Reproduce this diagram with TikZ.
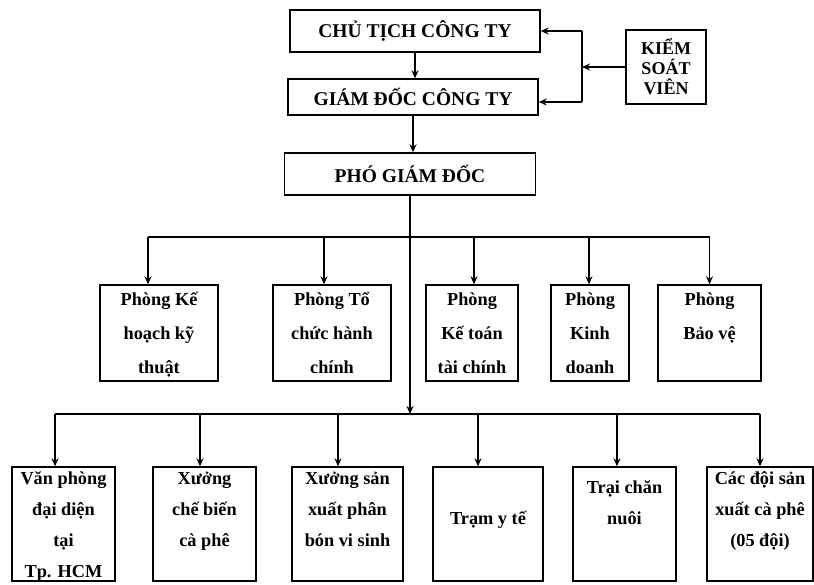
\documentclass[tikz,border=0pt]{standalone}
\usepackage{fontspec}
\setmainfont{Liberation Serif}
\usetikzlibrary{arrows.meta}

% text of a box, hung from its top edge
\newcommand{\unittext}[4][3pt]{\parbox[c][#2][t]{#3}{\centering\vspace*{#1}\rule{0pt}{14pt}#4}}

\begin{document}
\begin{tikzpicture}[x=1pt, y=-1pt, >=Stealth]
  \tikzset{
    unit/.style={draw, line width=1.4pt, inner sep=0pt},
    head/.style={unit, font=\bfseries\fontsize{19.5}{22}\selectfont},
    dept/.style={unit, font=\bfseries\fontsize{18.3}{34}\selectfont},
    site/.style={unit, font=\bfseries\fontsize{18.3}{31}\selectfont},
    link/.style={line width=1.3pt, -{Stealth[length=8pt, width=7pt]}},
    bus/.style={line width=1.3pt},
  }
  \useasboundingbox (0,0) rectangle (814,585);

  % --- Management ---
  \node[head, minimum width=250pt, minimum height=42pt] (ct) at (415,31) {CHỦ TỊCH CÔNG TY};
  \node[head, minimum width=250pt, minimum height=36pt] (gd) at (413,97) {GIÁM ĐỐC CÔNG TY};
  \node[head, minimum width=251pt, minimum height=42pt] (pgd) at (410,174) {PHÓ GIÁM ĐỐC};
  \node[unit, minimum width=80pt, minimum height=74pt, align=center,
        font=\bfseries\fontsize{18}{20}\selectfont] (ksv) at (666,67) {KIỂM\\SOÁT\\VIÊN};

  \draw[link] (ct.south) -- (ct.south |- gd.north);
  \draw[link] (gd.south) -- (gd.south |- pgd.north);

  % Supervisor
  \coordinate (ksvtop) at (582,31);
  \coordinate (ksvbot) at (582,102);
  \draw[bus] (ksvtop) -- (ksvbot);
  \draw[link] (ksv.west) -- (ksv.west -| ksvtop);
  \draw[link] (ksvtop) -- (ksvtop -| ct.east);
  \draw[link] (ksvbot) -- (ksvbot -| gd.east);

  % --- Departments ---
  \node[dept] (pkh) at (159,333) {\unittext[7pt]{96pt}{118pt}{Phòng Kế\\hoạch kỹ\\thuật}};
  \node[dept] (ptc) at (332,333) {\unittext[7pt]{96pt}{118pt}{Phòng Tổ\\chức hành\\chính}};
  \node[dept] (pkt) at (472,333) {\unittext[7pt]{96pt}{92pt}{Phòng\\Kế toán\\tài chính}};
  \node[dept] (pkd) at (590,333) {\unittext[7pt]{96pt}{78pt}{Phòng\\Kinh\\doanh}};
  \node[dept] (pbv) at (709.5,333) {\unittext[7pt]{96pt}{103pt}{Phòng\\Bảo vệ}};

  % --- Production units ---
  \node[site] (vp) at (63.5,524) {\unittext{114pt}{103pt}{Văn phòng\\đại diện\\tại\\Tp. HCM}};
  \node[site] (xcb) at (204.5,524) {\unittext{114pt}{103pt}{Xưởng\\chế biến\\cà phê}};
  \node[site] (xsx) at (347.5,524) {\unittext{114pt}{111pt}{Xưởng sản\\xuất phân\\bón vi sinh}};
  \node[site] (tyt) at (488,524) {\unittext[43pt]{114pt}{110pt}{Trạm y tế}};
  \node[site] (tcn) at (624.5,524) {\unittext[12pt]{114pt}{103pt}{Trại chăn\\nuôi}};
  \node[site] (cds) at (760,524) {\unittext{114pt}{106pt}{Các đội sản\\xuất cà phê\\(05 đội)}};

  % --- Trunk and buses ---
  \coordinate (upbus) at (410,237);
  \coordinate (lowbus) at (410,414);
  \draw[link] (pgd.south) -- (pgd.south |- lowbus);
  \draw[bus] ([xshift=-11pt]pkh.north |- upbus) -- (pbv.north |- upbus);
  \draw[bus] ([xshift=-8.5pt]vp.north |- lowbus) -- (cds.north |- lowbus);

  \draw[link] ([xshift=-11pt]pkh.north |- upbus) -- ([xshift=-11pt]pkh.north);
  \draw[link] ([xshift=-8pt]ptc.north |- upbus) -- ([xshift=-8pt]ptc.north);
  \draw[link] ([xshift=2pt]pkt.north |- upbus) -- ([xshift=2pt]pkt.north);
  \draw[link] ([xshift=-1pt]pkd.north |- upbus) -- ([xshift=-1pt]pkd.north);
  \draw[link] (pbv.north |- upbus) -- (pbv.north);

  \draw[link] ([xshift=-8.5pt]vp.north |- lowbus) -- ([xshift=-8.5pt]vp.north);
  \draw[link] ([xshift=-4.5pt]xcb.north |- lowbus) -- ([xshift=-4.5pt]xcb.north);
  \draw[link] ([xshift=-9.5pt]xsx.north |- lowbus) -- ([xshift=-9.5pt]xsx.north);
  \draw[link] ([xshift=-10pt]tyt.north |- lowbus) -- ([xshift=-10pt]tyt.north);
  \draw[link] ([xshift=-7.5pt]tcn.north |- lowbus) -- ([xshift=-7.5pt]tcn.north);
  \draw[link] (cds.north |- lowbus) -- (cds.north);

\end{tikzpicture}
\end{document}
